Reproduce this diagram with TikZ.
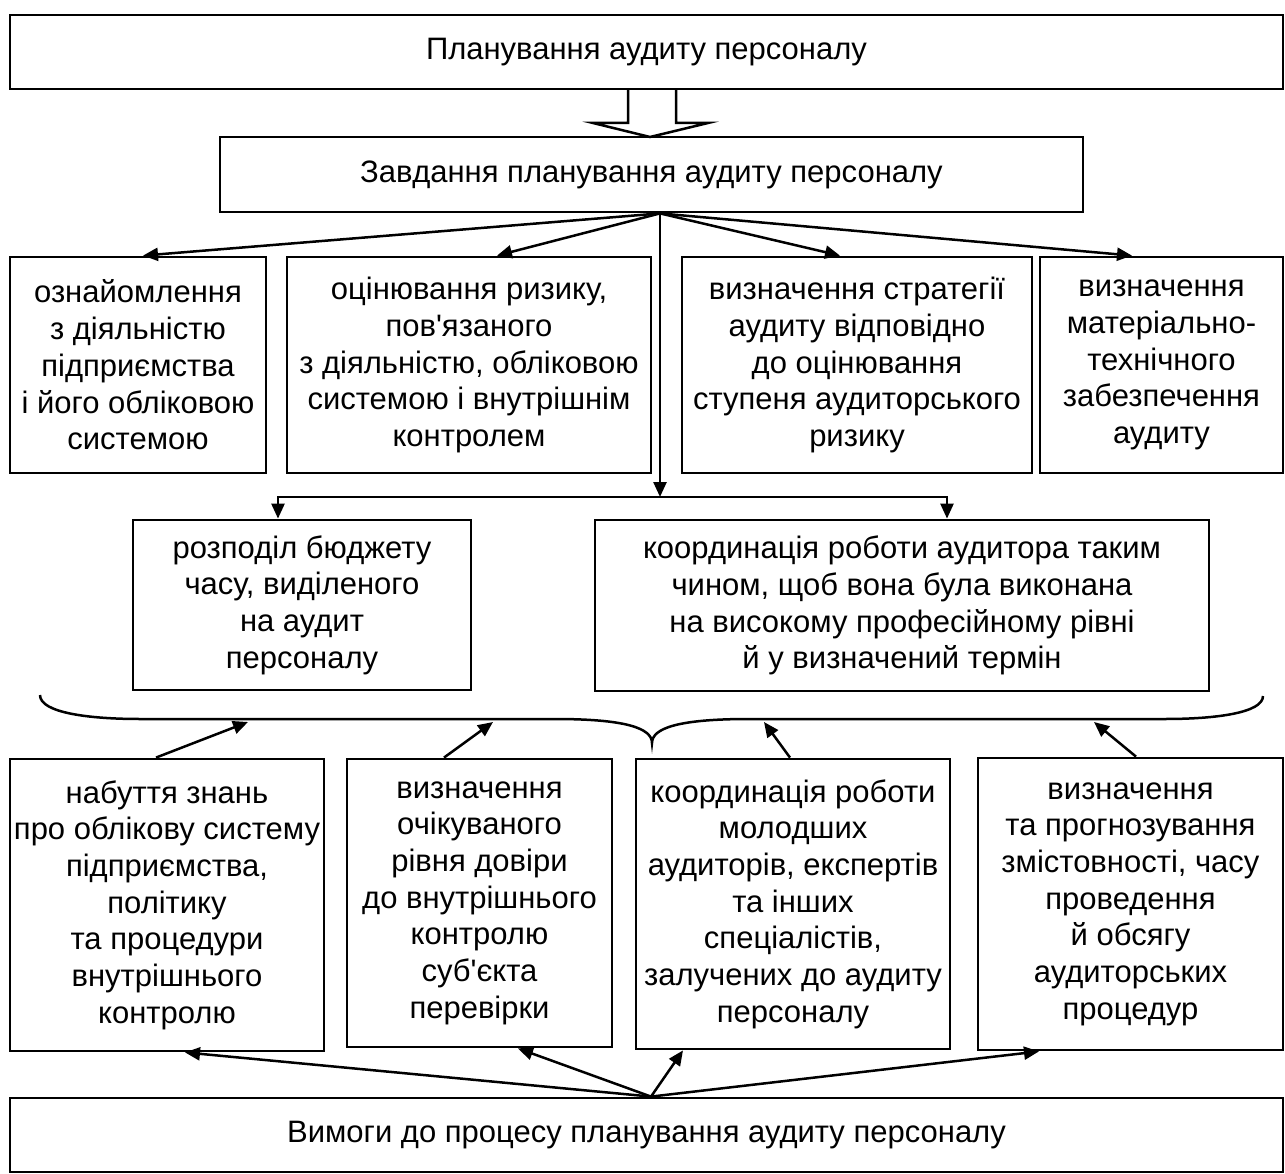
\documentclass[tikz,border=0pt]{standalone}
\usepackage{fontspec}
\newfontfamily\lsans{Liberation Sans}
\usetikzlibrary{arrows.meta,calc}
\begin{document}
\begin{tikzpicture}[x=1pt,y=-1pt,
  box/.style={draw, line width=2.8pt, rectangle, inner sep=0pt, align=center,
    font=\lsans\fontsize{31}{36.7}\selectfont},
  arr/.style={line width=2.5pt, line join=miter, -{Triangle[length=15pt,width=13pt]}},
  link/.style={line width=2.5pt, line join=miter}]
\useasboundingbox (0,0) rectangle (1285,1174);

% --- header boxes ---
\node[box, minimum width=1273pt, minimum height=74pt] (plan) at (646.5,52) {Планування аудиту персоналу};
\node[box, minimum width=863pt, minimum height=75pt] (task) at (651.5,174.5) {Завдання планування аудиту персоналу};

% hollow block arrow between the two header boxes
\draw[link] (628,89) -- (628,123) -- (593,123) -- (650,137) -- (708,123) -- (676,123) -- (676,89);

% --- first row of tasks ---
\node[box, minimum width=256pt, minimum height=216pt] (b1) at (138,365)
  {ознайомлення\\з діяльністю\\підприємства\\і його обліковою\\системою};
\node[box, minimum width=364pt, minimum height=216pt] (b2) at (469,365)
  {оцінювання ризику,\\пов\symbol{39}язаного\\з діяльністю, обліковою\\системою і внутрішнім\\контролем};
\node[box, minimum width=350pt, minimum height=216pt] (b3) at (857,365)
  {визначення стратегії\\аудиту відповідно\\до оцінювання\\ступеня аудиторського\\ризику};
\node[box, minimum width=243pt, minimum height=216pt] (b4) at (1161.5,365)
  {визначення\\матеріально-\\технічного\\забезпечення\\аудиту};

% --- second row ---
\node[box, minimum width=338pt, minimum height=170pt] (b5) at (302,605)
  {розподіл бюджету\\часу, виділеного\\на аудит\\персоналу};
\node[box, minimum width=614pt, minimum height=171pt] (b6) at (902,605.5)
  {координація роботи аудитора таким\\чином, щоб вона була виконана\\на високому професійному рівні\\й у визначений термін};

% --- requirements row ---
\node[box, minimum width=314pt, minimum height=292pt] (c1) at (167,905)
  {набуття знань\\про облікову систему\\підприємства,\\політику\\та процедури\\внутрішнього\\контролю};
\node[box, minimum width=265pt, minimum height=288pt] (c2) at (479.5,903)
  {визначення\\очікуваного\\рівня довіри\\до внутрішнього\\контролю\\суб\symbol{39}єкта\\перевірки};
\node[box, minimum width=314pt, minimum height=290pt] (c3) at (793,904)
  {координація роботи\\молодших\\аудиторів, експертів\\та інших\\спеціалістів,\\залучених до аудиту\\персоналу};
\node[box, minimum width=305pt, minimum height=292pt] (c4) at (1130.5,904)
  {визначення\\та прогнозування\\змістовності, часу\\проведення\\й обсягу\\аудиторських\\процедур};

\node[box, minimum width=1273pt, minimum height=74pt] (req) at (646.5,1135)
  {Вимоги до процесу планування аудиту персоналу};

% --- connectors from the task box ---
\coordinate (hub) at ([xshift=8.5pt]task.south);
\coordinate (split) at (660,497);
\draw[arr] (hub) -- ([xshift=5pt]b1.north);
\draw[arr] (hub) -- ([xshift=28pt]b2.north);
\draw[arr] (hub) -- ([xshift=-17pt]b3.north);
\draw[arr] (hub) -- ([xshift=-29.5pt]b4.north);
\draw[arr] (hub) -- (split);
\draw[arr] (split) -| ([xshift=-24pt]b5.north);
\draw[arr] (split) -| ([xshift=45pt]b6.north);

% --- brace under the second row ---
\coordinate (cusp) at (652,743);
\draw[line width=2.5pt] (40,695) .. controls (40,713) and (90,719) .. (140,719)
  -- (555,719) .. controls (625,719) and (652,728) .. (cusp)
  .. controls (652,728) and (679,719) .. (749,719)
  -- (1165,719) .. controls (1215,719) and (1263,713) .. (1263,696);
\coordinate (k1) at (248,722);
\coordinate (k2) at (493,722);
\coordinate (k3) at (764,722);
\coordinate (k4) at (1094,722);
\draw[arr] ([xshift=-11pt]c1.north) -- (k1);
\draw[arr] ([xshift=-35.5pt]c2.north) -- (k2);
\draw[arr] ([xshift=-3pt]c3.north) -- (k3);
\draw[arr] ([xshift=5.5pt]c4.north) -- (k4);

% --- connectors from the requirements box ---
\coordinate (root) at ([xshift=4.5pt]req.north);
\draw[arr] (root) -- ([xshift=18pt]c1.south);
\draw[arr] (root) -- ([xshift=38.5pt]c2.south);
\draw[arr] (root) -- ([xshift=-110pt]c3.south);
\draw[arr] (root) -- ([xshift=-91.5pt]c4.south);
\end{tikzpicture}
\end{document}
